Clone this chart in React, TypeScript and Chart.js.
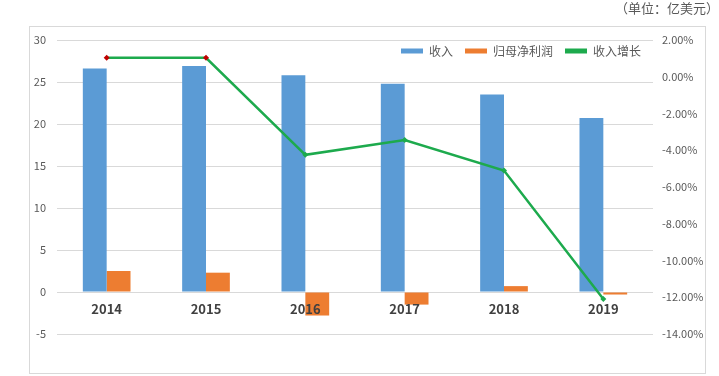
import React, { useEffect, useRef } from "react";
import { Chart, registerables } from "chart.js";

Chart.register(...registerables);

const years = ["2014", "2015", "2016", "2017", "2018", "2019"];
const revenue = [26.6, 26.9, 25.8, 24.8, 23.5, 20.7];
const netProfit = [2.5, 2.3, -2.8, -1.5, 0.7, -0.3];
const revenueGrowth = [1.03, 1.03, -4.25, -3.44, -5.1, -12.1];
const leftTicks = { min: -5, max: 30, step: 5 };
const rightTicks = { min: -14, max: 2, step: 2 };
const unitLabel = "（单位：亿美元）";
const seriesNames = ["收入", "归母净利润", "收入增长"];

const BLUE = "#5B9BD5";
const ORANGE = "#ED7D31";
const GREEN = "#1DAA4D";
const RED = "#C00000";
const FONT = "'Noto Sans CJK SC', 'Noto Sans', sans-serif";

const moveLegend = {
  id: "moveLegend",
  afterLayout(chart: any) {
    const l = chart.legend;
    if (!l) return;
    const h = l.bottom - l.top;
    l.top = 50 - h / 2;
    l.bottom = l.top + h;
  },
};

export default function App() {
  const ref = useRef<HTMLCanvasElement | null>(null);

  useEffect(() => {
    if (!ref.current) return;
    Chart.defaults.font.family = FONT;
    const chart = new Chart(ref.current, {
      type: "bar",
      data: {
        labels: years,
        datasets: [
          {
            type: "bar",
            label: seriesNames[0],
            data: revenue,
            backgroundColor: BLUE,
            yAxisID: "y",
            order: 1,
            categoryPercentage: 0.48,
            barPercentage: 1.0,
          },
          {
            type: "bar",
            label: seriesNames[1],
            data: netProfit,
            backgroundColor: ORANGE,
            yAxisID: "y",
            order: 1,
            categoryPercentage: 0.48,
            barPercentage: 1.0,
          },
          {
            type: "line",
            label: seriesNames[2],
            data: revenueGrowth,
            borderColor: GREEN,
            backgroundColor: GREEN,
            borderWidth: 2.5,
            tension: 0,
            pointStyle: "rectRot",
            pointRadius: 3,
            pointBackgroundColor: revenueGrowth.map((_, i) => (i < 2 ? RED : GREEN)),
            pointBorderColor: revenueGrowth.map((_, i) => (i < 2 ? RED : GREEN)),
            pointBorderWidth: 0,
            yAxisID: "y1",
            order: 0,
          } as any,
        ],
      },
      options: {
        responsive: false,
        animation: false,
        devicePixelRatio: 1,
        layout: { padding: { left: 0, right: 0, top: 0, bottom: 8 } },
        plugins: {
          title: {
            display: true,
            text: unitLabel,
            align: "end",
            position: "top",
            color: "#595959",
            font: { size: 13, weight: "normal", family: FONT },
            padding: { top: 0, bottom: 24.4 },
          },
          legend: {
            position: "bottom",
            align: "end",
            fullSize: false,
            labels: {
              boxWidth: 22,
              boxHeight: 5,
              padding: 12,
              color: "#595959",
              font: { size: 12, family: FONT },
              sort: (a: any, b: any) => a.datasetIndex - b.datasetIndex,
              generateLabels: (c: any) =>
                Chart.defaults.plugins.legend.labels
                  .generateLabels(c)
                  .map((it: any) => ({ ...it, lineWidth: 0 })),
            },
          },
          tooltip: { enabled: false },
        },
        scales: {
          x: {
            type: "category",
            position: { y: 0 } as any,
            grid: { display: false },
            border: { display: false },
            ticks: {
              z: 1,
              color: "#404040",
              font: { size: 13, weight: "bold", family: FONT },
              padding: 1,
            },
            afterFit: (s: any) => {
              s.height = 0;
            },
          },
          y: {
            type: "linear",
            position: "left",
            min: leftTicks.min,
            max: leftTicks.max,
            ticks: {
              stepSize: leftTicks.step,
              color: "#595959",
              font: { size: 11, family: FONT },
              padding: 11,
            },
            grid: { color: "#D9D9D9", drawTicks: false, lineWidth: 1 },
            border: { display: false },
            afterFit: (s: any) => {
              s.width = 57;
            },
          },
          y1: {
            type: "linear",
            position: "right",
            min: rightTicks.min,
            max: rightTicks.max,
            ticks: {
              stepSize: rightTicks.step,
              color: "#595959",
              font: { size: 11, family: FONT },
              padding: 9,
              callback: (v: any) => Number(v).toFixed(2) + "%",
            },
            grid: { display: false, drawTicks: false },
            border: { display: false },
            afterFit: (s: any) => {
              s.width = 66;
            },
          },
        },
      },
      plugins: [moveLegend],
    });
    return () => chart.destroy();
  }, []);

  return (
    <div style={{ position: "fixed", left: 0, top: 0, width: 719, height: 376, background: "#fff" }}>
      <div
        style={{
          position: "absolute",
          left: 29,
          top: 26,
          width: 675,
          height: 346,
          border: "1px solid #D9D9D9",
        }}
      />
      <canvas
        ref={ref}
        width={719}
        height={376}
        style={{ position: "absolute", left: 0, top: 0, width: 719, height: 376 }}
      />
    </div>
  );
}
